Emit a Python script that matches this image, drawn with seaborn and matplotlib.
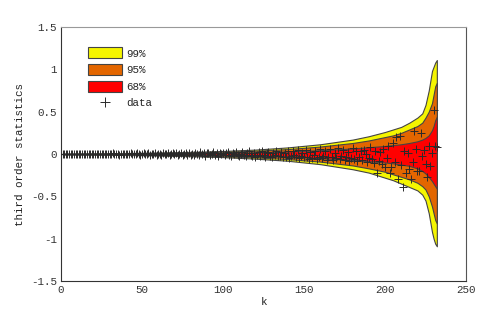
import numpy as np
import pandas as pd
import matplotlib
matplotlib.use("Agg")
import matplotlib.pyplot as plt
from matplotlib.patches import Patch
from matplotlib.lines import Line2D
import seaborn as sns

# ---- band positions and limits ----
k_band = [1, 20, 40, 60, 80, 100, 120, 140, 160, 180, 190, 200, 205, 210,
          215, 220, 223, 225, 227, 229, 230, 231, 232]
up99 = [0.005, 0.008, 0.012, 0.018, 0.025, 0.036, 0.052, 0.078, 0.115, 0.17, 0.21,
        0.26, 0.29, 0.32, 0.37, 0.43, 0.48, 0.58, 0.75, 0.98, 1.03, 1.08, 1.11]
up95 = [0.004, 0.006, 0.009, 0.013, 0.019, 0.027, 0.039, 0.058, 0.088, 0.13, 0.16,
        0.2, 0.22, 0.25, 0.29, 0.33, 0.37, 0.43, 0.5, 0.6, 0.7, 0.8, 0.84]
up68 = [0.002, 0.003, 0.005, 0.007, 0.01, 0.014, 0.02, 0.03, 0.045, 0.065, 0.08,
        0.095, 0.105, 0.115, 0.13, 0.15, 0.17, 0.19, 0.22, 0.28, 0.33, 0.4, 0.44]
lo99 = [-0.005, -0.008, -0.012, -0.018, -0.026, -0.037, -0.055, -0.08, -0.12, -0.18,
        -0.22, -0.28, -0.31, -0.35, -0.39, -0.43, -0.48, -0.55, -0.7, -0.92, -1.0,
        -1.06, -1.09]
lo95 = [-0.004, -0.006, -0.009, -0.013, -0.02, -0.028, -0.04, -0.06, -0.09, -0.135,
        -0.17, -0.21, -0.24, -0.27, -0.3, -0.34, -0.38, -0.42, -0.5, -0.62, -0.7,
        -0.78, -0.82]
lo68 = [-0.002, -0.003, -0.005, -0.007, -0.01, -0.015, -0.022, -0.033, -0.05, -0.07,
        -0.085, -0.1, -0.11, -0.125, -0.14, -0.17, -0.2, -0.23, -0.27, -0.32, -0.35,
        -0.38, -0.41]

# ---- data (third order statistics for k = 1..232) ----
data_vals = [
    0.000, 0.001, -0.001, 0.002, 0.000, -0.002, 0.001, 0.003, -0.001, 0.000,
    0.002, -0.003, 0.001, 0.004, -0.002, 0.001, 0.000, 0.003, -0.004, 0.002,
    0.001, -0.003, 0.005, 0.000, -0.002, 0.004, 0.001, -0.005, 0.003, 0.002,
    -0.001, 0.006, -0.003, 0.000, 0.004, -0.006, 0.002, 0.001, -0.004, 0.005,
    -0.002, 0.003, 0.007, -0.005, 0.001, -0.003, 0.006, 0.002, -0.007, 0.004,
    0.010, -0.004, 0.002, 0.012, -0.006, 0.003, -0.002, 0.008, -0.008, 0.005,
    0.002, -0.010, 0.006, 0.001, -0.005, 0.009, -0.012, 0.004, 0.014, -0.003,
    0.007, -0.009, 0.002, 0.011, -0.014, 0.003, 0.016, -0.006, 0.008, -0.011,
    0.005, -0.015, 0.012, 0.000, -0.008, 0.018, -0.004, 0.010, -0.018, 0.006,
    0.014, -0.012, 0.003, 0.020, -0.010, 0.008, -0.020, 0.015, -0.005, 0.012,
    -0.015, 0.006, 0.022, -0.008, -0.018, 0.010, -0.003, 0.025, -0.012, -0.022,
    0.004, 0.018, -0.010, -0.025, 0.008, 0.030, -0.006, -0.020, 0.012, -0.030,
    -0.008, 0.020, -0.025, 0.035, -0.015, -0.032, 0.010, 0.025, -0.020, -0.038,
    0.015, -0.010, 0.040, -0.028, -0.018, 0.022, -0.040, 0.008, -0.030, 0.030,
    -0.045, -0.020, 0.035, -0.012, -0.035, 0.045, -0.050, -0.025, 0.015, -0.040,
    0.050, -0.030, -0.055, 0.020, -0.045, -0.015, 0.040, -0.060, -0.035, 0.055,
    -0.050, -0.020, 0.030, -0.065, -0.040, 0.060, -0.030, -0.070, 0.010, -0.045,
    0.067, -0.060, -0.025, 0.045, -0.075, -0.040, 0.020, -0.080, -0.050, 0.070,
    -0.060, 0.030, -0.085, -0.030, 0.030, -0.070, 0.050, 0.000, -0.095, -0.045,
    0.085, -0.060, -0.110, 0.040, -0.220, -0.080, 0.020, -0.120, 0.060, -0.150,
    -0.050, 0.100, -0.220, -0.150, 0.130, -0.090, 0.200, -0.300, 0.210, -0.126,
    -0.386, 0.030, -0.220, 0.008, -0.180, -0.300, -0.100, 0.270, 0.060, -0.197,
    -0.200, 0.250, -0.020, 0.047, -0.118, -0.270, 0.100, -0.140, 0.010, 0.520,
    0.090, 0.080,
]
k_data = list(range(1, len(data_vals) + 1))

x_ticks = [0, 50, 100, 150, 200, 250]
y_ticks = [-1.5, -1, -0.5, 0, 0.5, 1, 1.5]
y_ticklabels = ["-1.5", "-1", "-0.5", "0", "0.5", "1", "1.5"]
legend_labels = ["99%", "95%", "68%", "data"]

c99, c95, c68 = "#F5F500", "#E36600", "#FF0000"
edge = "#444444"

sns.set_style("white")
plt.rcParams["font.family"] = ["Liberation Mono", "DejaVu Sans Mono"]
plt.rcParams["font.size"] = 7.5

fig = plt.figure(figsize=(4.91, 3.27), dpi=100)
ax = fig.add_axes([61 / 491, 1 - 281 / 327, 405 / 491, 254 / 327])

ax.fill_between(k_band, lo99, up99, facecolor=c99, edgecolor=edge, linewidth=0.8)
ax.fill_between(k_band, lo95, up95, facecolor=c95, edgecolor=edge, linewidth=0.8)
ax.fill_between(k_band, lo68, up68, facecolor=c68, edgecolor=edge, linewidth=0.8)

df = pd.DataFrame({"k": k_data, "v": data_vals})
sns.scatterplot(data=df, x="k", y="v", marker="+", s=36, color="#2a2a2a",
                linewidth=0.7, ax=ax, zorder=5)

ax.set_xlim(0, 250)
ax.set_ylim(-1.5, 1.5)
ax.set_xticks(x_ticks)
ax.set_xticklabels([str(t) for t in x_ticks])
ax.set_yticks(y_ticks)
ax.set_yticklabels(y_ticklabels)
ax.tick_params(direction="in", length=4, width=0.6, colors="#333333",
               labelcolor="#333333", labelsize=7.8, pad=3)
ax.set_xlabel("k", fontsize=7.8, color="#222222", labelpad=1)
ax.set_ylabel("third order statistics", fontsize=7.8, color="#222222", labelpad=4)

for s in ["left", "bottom"]:
    ax.spines[s].set_color("#333333")
    ax.spines[s].set_linewidth(0.8)
ax.spines["top"].set_color("#999999")
ax.spines["right"].set_color("#555555")
ax.spines["top"].set_linewidth(0.8)
ax.spines["right"].set_linewidth(0.8)

handles = [
    Patch(facecolor=c99, edgecolor=edge, linewidth=0.8),
    Patch(facecolor=c95, edgecolor=edge, linewidth=0.8),
    Patch(facecolor=c68, edgecolor=edge, linewidth=0.8),
    Line2D([], [], linestyle="none", marker="+", color="#2a2a2a",
           markersize=6.5, markeredgewidth=0.7),
]
ax.legend(handles, legend_labels, loc="upper left",
          bbox_to_anchor=(0.067, 0.92), frameon=False, borderpad=0,
          handlelength=3.1, handleheight=1.2, labelspacing=0.5,
          handletextpad=0.45, fontsize=7.8, borderaxespad=0)

fig.savefig("out.png", dpi=100, facecolor="white")
